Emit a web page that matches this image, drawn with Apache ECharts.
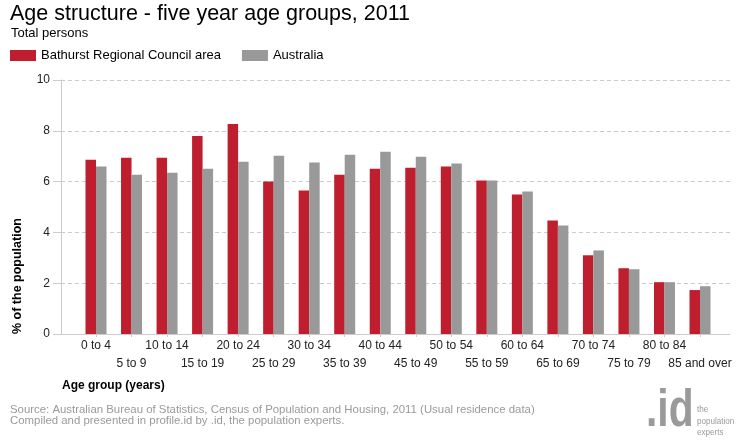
<!DOCTYPE html>
<html>
<head>
<meta charset="utf-8">
<script src="https://cdn.jsdelivr.net/npm/echarts@6/dist/echarts.min.js"></script>
<style>
html,body{margin:0;padding:0;background:#fff;}
#chart{width:740px;height:440px;}
</style>
</head>
<body>
<div id="chart"></div>
<script>
var categories = ['0 to 4','5 to 9','10 to 14','15 to 19','20 to 24','25 to 29','30 to 34','35 to 39','40 to 44','45 to 49','50 to 54','55 to 59','60 to 64','65 to 69','70 to 74','75 to 79','80 to 84','85 and over'];
var bathurst = [6.86, 6.94, 6.94, 7.80, 8.27, 6.00, 5.65, 6.27, 6.51, 6.55, 6.59, 6.04, 5.49, 4.47, 3.10, 2.59, 2.04, 1.73];
var australia = [6.59, 6.27, 6.35, 6.51, 6.78, 7.02, 6.75, 7.06, 7.18, 6.98, 6.71, 6.04, 5.61, 4.27, 3.29, 2.55, 2.04, 1.88];
var seriesNames = ['Bathurst Regional Council area', 'Australia'];
var yTicks = {min: 0, max: 10, interval: 2};

var FONT = '"Liberation Sans", Arial, sans-serif';
var chart = echarts.init(document.getElementById('chart'), null, {renderer: 'canvas'});
var option = {
  animation: false,
  backgroundColor: '#fff',
  textStyle: {fontFamily: FONT},
  title: [
    {text: 'Age structure - five year age groups, 2011', left: 10, top: 3, padding: 0,
     textStyle: {fontFamily: FONT, fontSize: 21.5, fontWeight: 'normal', color: '#000'}},
    {text: 'Total persons', left: 11, top: 27, padding: 0,
     textStyle: {fontFamily: FONT, fontSize: 13, fontWeight: 'normal', color: '#000'}}
  ],
  legend: {
    left: 10, top: 49, padding: 0, itemWidth: 26, itemHeight: 11, itemGap: 21, icon: 'rect',
    textStyle: {fontFamily: FONT, fontSize: 13, color: '#000', padding: [0,0,0,0]},
    data: seriesNames
  },
  grid: [
    {left: 61, right: 10, top: 80, bottom: 106},
    {left: 96, right: 40, top: 80, bottom: 106}
  ],
  xAxis: [
    {gridIndex: 0, type: 'value', min: 0, max: 1,
     axisLine: {show: true, lineStyle: {color: '#cccccc', width: 1}},
     axisTick: {show: false}, axisLabel: {show: false}, splitLine: {show: false}},
    {gridIndex: 1, type: 'category', data: categories, boundaryGap: false,
     axisLine: {show: false},
     axisTick: {show: true, interval: 0, length: 3, lineStyle: {color: '#cccccc', width: 1}},
     axisLabel: {interval: 0, margin: 3, fontFamily: FONT, fontSize: 12, color: '#222', lineHeight: 18,
       formatter: function (v, i) { return (i % 2) ? '\n' + v : v; }},
     splitLine: {show: false}}
  ],
  yAxis: [
    {gridIndex: 0, type: 'value', min: yTicks.min, max: yTicks.max, interval: yTicks.interval,
     axisLine: {show: true, lineStyle: {color: '#cccccc'}},
     axisTick: {show: true, length: 8, lineStyle: {color: '#cccccc'}},
     axisLabel: {margin: 11, fontFamily: FONT, fontSize: 12, color: '#222'},
     splitLine: {show: true, lineStyle: {color: '#cccccc', type: [4, 3]}}},
    {gridIndex: 1, type: 'value', min: yTicks.min, max: yTicks.max, interval: yTicks.interval,
     show: false, splitLine: {show: false}}
  ],
  series: [
    {name: seriesNames[0], type: 'bar', xAxisIndex: 1, yAxisIndex: 1, data: bathurst, clip: false,
     barWidth: 10.5, barGap: '0%', itemStyle: {color: '#BE1E2D'}},
    {name: seriesNames[1], type: 'bar', xAxisIndex: 1, yAxisIndex: 1, data: australia, clip: false,
     barWidth: 10.5, barGap: '0%', itemStyle: {color: '#999999'}}
  ],
  graphic: [
    {type: 'text', x: 18, y: 334, rotation: Math.PI / 2,
     style: {text: '% of the population', font: 'bold 12.5px ' + FONT, fill: '#000', textAlign: 'left', textVerticalAlign: 'middle'}},
    {type: 'text', x: 62, y: 386,
     style: {text: 'Age group (years)', font: 'bold 12px ' + FONT, fill: '#000', textAlign: 'left', textVerticalAlign: 'middle'}},
    {type: 'text', x: 10, y: 410,
     style: {text: 'Source: Australian Bureau of Statistics, Census of Population and Housing, 2011 (Usual residence data)', font: '11.4px ' + FONT, fill: '#9a9a9a', textAlign: 'left', textVerticalAlign: 'middle'}},
    {type: 'text', x: 10, y: 421,
     style: {text: 'Compiled and presented in profile.id by .id, the population experts.', font: '11.4px ' + FONT, fill: '#9a9a9a', textAlign: 'left', textVerticalAlign: 'middle'}},
    {type: 'text', x: 646, y: 437, scaleX: 0.8,
     style: {text: '.id', font: 'bold 51px ' + FONT, fill: '#9a9a9a', textAlign: 'left', textVerticalAlign: 'bottom'}},
    {type: 'text', x: 697, y: 404, scaleX: 0.85,
     style: {text: 'the\npopulation\nexperts', font: '9.5px ' + FONT, fill: '#9a9a9a', lineHeight: 11.5, textAlign: 'left', textVerticalAlign: 'top'}}
  ]
};
chart.setOption(option);
</script>
</body>
</html>
